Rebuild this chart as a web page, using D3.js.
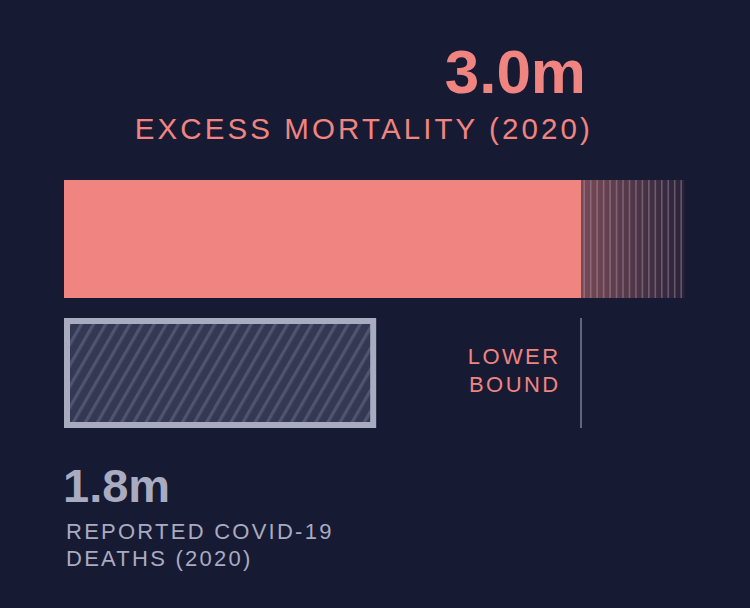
<!DOCTYPE html>
<html><head><meta charset="utf-8">
<script src="https://cdn.jsdelivr.net/npm/d3@7"></script>
<style>
html,body{margin:0;padding:0;background:#171a33;}
svg{display:block;font-family:"Liberation Sans",Arial,sans-serif;}
</style></head>
<body>
<svg id="c" width="750" height="608"></svg>
<script>
const categories = ["Excess mortality (2020)", "Reported COVID-19 deaths (2020)"];
const values = [3.0, 1.8];
const upperBound = [3.6];
const labels = ["3.0m", "1.8m"];
const captions = [["EXCESS MORTALITY (2020)"], ["REPORTED COVID-19", "DEATHS (2020)"]];
const boundLabel = ["LOWER", "BOUND"];

const pink = "#f08480", gray = "#a9abc0", bg = "#171a33";
const svg = d3.select("#c");
svg.append("rect").attr("width",750).attr("height",608).attr("fill",bg);

const x = d3.scaleLinear().domain([0, 3.0]).range([64, 581]);
const defs = svg.append("defs");

// hatch pattern
const pat = defs.append("pattern").attr("id","hatch").attr("patternUnits","userSpaceOnUse")
  .attr("width",10.5).attr("height",12).attr("patternTransform","rotate(30)");
pat.append("rect").attr("width",10.5).attr("height",12).attr("fill","#343852");
pat.append("rect").attr("x",0).attr("width",3.2).attr("height",12).attr("fill","#4f5470");

// gradient for uncertainty extension
const grad = defs.append("linearGradient").attr("id","fade");
grad.append("stop").attr("offset","0%").attr("stop-color",pink).attr("stop-opacity",0.45);
grad.append("stop").attr("offset","100%").attr("stop-color",pink).attr("stop-opacity",0.08);

const barY = 180, barH = 118;
// uncertainty extension
svg.append("rect").attr("x", x(values[0])).attr("y", barY)
  .attr("width", x(upperBound[0]) - x(values[0])).attr("height", barH)
  .attr("fill","url(#fade)");
const lineTicks = d3.range(16).map(i => values[0] + (upperBound[0]-values[0]) * (i+0.5)/16);
svg.selectAll("line.ext").data(lineTicks).join("line").attr("class","ext")
  .attr("x1", d => x(d)).attr("x2", d => x(d))
  .attr("y1", barY).attr("y2", barY+barH)
  .attr("stroke","#b4a3b8").attr("stroke-opacity",0.4).attr("stroke-width",1.6);

// main bar
svg.append("rect").attr("x", x(0)).attr("y", barY)
  .attr("width", x(values[0]) - x(0)).attr("height", barH).attr("fill", pink);

// reported bar
svg.append("rect").attr("x", x(0)+3).attr("y", 321)
  .attr("width", x(values[1]) - x(0) - 4).attr("height", 104)
  .attr("fill","url(#hatch)").attr("stroke", gray).attr("stroke-width",6);

// lower bound line
svg.append("line").attr("x1", x(values[0])).attr("x2", x(values[0]))
  .attr("y1",318).attr("y2",428).attr("stroke","#62647e").attr("stroke-width",2);

svg.append("text").attr("text-anchor","end").attr("fill",pink)
  .attr("font-size",22).attr("letter-spacing",2.4)
  .selectAll("tspan").data(boundLabel).join("tspan")
  .attr("x",560.5).attr("y",(d,i)=>364+i*28).text(d=>d);

// top labels
svg.append("text").attr("x",586).attr("y",93).attr("text-anchor","end")
  .attr("fill",pink).attr("font-size",62).attr("font-weight","bold").text(labels[0]);
svg.append("text").attr("x",593).attr("y",139).attr("text-anchor","end")
  .attr("fill",pink).attr("font-size",29.5).attr("letter-spacing",3.1).text(captions[0][0]);

// bottom labels
svg.append("text").attr("x",63).attr("y",502)
  .attr("fill",gray).attr("font-size",47).attr("font-weight","bold").text(labels[1]);
svg.append("text").attr("fill",gray).attr("font-size",22).attr("letter-spacing",2.25)
  .selectAll("tspan").data(captions[1]).join("tspan")
  .attr("x",66).attr("y",(d,i)=>539+i*27).text(d=>d);
</script>
</body></html>
